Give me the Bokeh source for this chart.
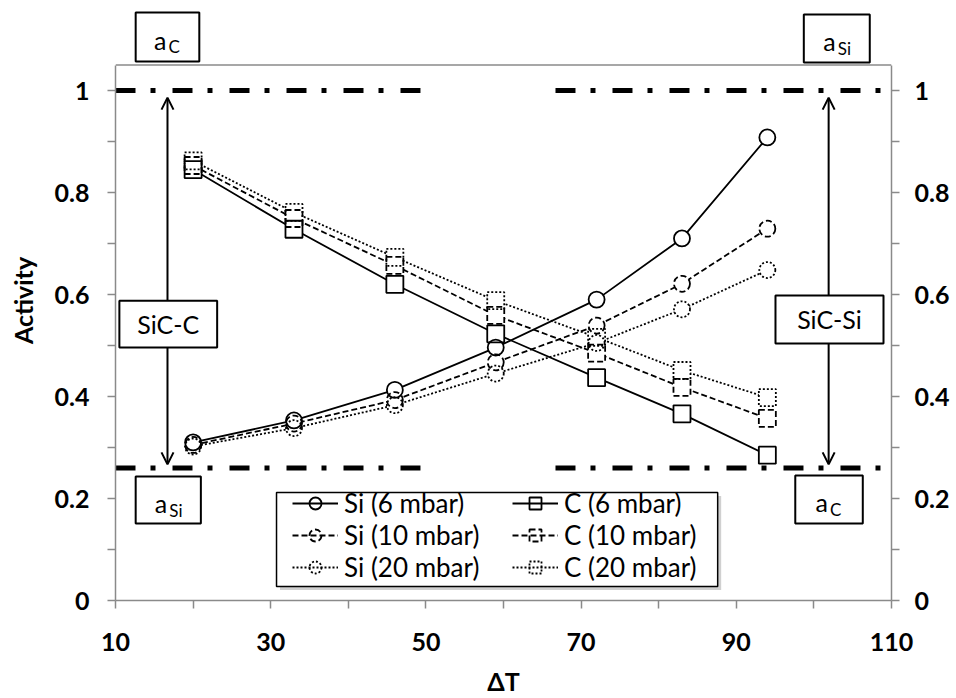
from bokeh.plotting import figure
from bokeh.models import (Range1d, LinearAxis, FixedTicker, Arrow, OpenHead,
                          Legend, LegendItem)
from bokeh.core.properties import value
from bokeh.embed import file_html
from bokeh.resources import INLINE

# ---------------- data ----------------
dt = [20, 33, 46, 59, 72, 83, 94]
si_6 = [0.310, 0.353, 0.413, 0.496, 0.590, 0.710, 0.908]
si_10 = [0.305, 0.347, 0.393, 0.467, 0.539, 0.621, 0.729]
si_20 = [0.302, 0.338, 0.383, 0.445, 0.505, 0.571, 0.648]
c_6 = [0.845, 0.728, 0.620, 0.523, 0.437, 0.366, 0.285]
c_10 = [0.853, 0.749, 0.657, 0.559, 0.485, 0.418, 0.357]
c_20 = [0.862, 0.761, 0.673, 0.588, 0.516, 0.451, 0.398]

series_labels = ["Si (6 mbar)", "Si (10 mbar)", "Si (20 mbar)",
                 "C (6 mbar)", "C (10 mbar)", "C (20 mbar)"]
series_values = [si_6, si_10, si_20, c_6, c_10, c_20]
series_markers = ["circle", "circle", "circle", "square", "square", "square"]
series_dash = ["solid", "6 3", "2 2", "solid", "6 3", "2 2"]

x_ticks = [10, 30, 50, 70, 90, 110]
x_minor = [20, 40, 60, 80, 100]
y_ticks = [0, 0.2, 0.4, 0.6, 0.8, 1.0]
y_tick_labels = ["0", "0.2", "0.4", "0.6", "0.8", "1"]
y_minor = [0.1, 0.3, 0.5, 0.7, 0.9]

# activity reference levels (dash-dot) and their x extents
ref_levels = [1.0, 0.26]
ref_x_start = [10, 66.7]
ref_x_end = [49.3, 110]

# double arrows (SiC-C on left, SiC-Si on right)
arrow_x = [16.7, 101.9]
arrow_y_low = 0.267
arrow_y_high = 0.986

# annotation boxes
box_text = ["a", "a", "SiC-C", "SiC-Si", "a", "a"]
box_sub = ["C", "Si", "", "", "Si", "C"]
box_x0 = [12.6, 98.7, 10.5, 95.05, 12.6, 97.6]
box_x1 = [20.8, 107.2, 23.1, 108.97, 21.0, 106.3]
box_y0 = [1.057, 1.055, 0.496, 0.504, 0.151, 0.151]
box_y1 = [1.153, 1.149, 0.588, 0.598, 0.243, 0.245]

# legend frame (data coordinates of the legend box)
legend_box = dict(left=30.75, right=87.6, bottom=0.0275, top=0.2118)

FONT = "Lato"
AX_COLOR = "#8a8a8a"

p = figure(width=954, height=698, x_range=Range1d(10, 110), y_range=Range1d(0, 1.1765),
           output_backend="svg", toolbar_location=None,
           min_border_left=115, min_border_right=63, min_border_top=0, min_border_bottom=98)
p.xgrid.visible = False
p.ygrid.visible = False
p.outline_line_color = None
p.background_fill_color = "white"
p.border_fill_color = "white"


def style_axis(ax):
    ax.axis_line_color = AX_COLOR
    ax.axis_line_width = 1.5
    ax.major_tick_line_color = AX_COLOR
    ax.minor_tick_line_color = AX_COLOR
    ax.major_tick_line_width = 1.5
    ax.minor_tick_line_width = 1.5
    ax.major_tick_in = 0
    ax.major_tick_out = 8
    ax.minor_tick_in = 0
    ax.minor_tick_out = 8
    ax.major_label_text_font = FONT
    ax.major_label_text_font_style = "bold"
    ax.major_label_text_font_size = "25px"
    ax.major_label_text_color = "black"


xax = p.xaxis[0]
style_axis(xax)
xax.ticker = FixedTicker(ticks=x_ticks, minor_ticks=x_minor)
xax.major_label_standoff = 24
xax.axis_label = "ΔT"
xax.axis_label_text_font = FONT
xax.axis_label_text_font_style = "bold"
xax.axis_label_text_font_size = "25px"
xax.axis_label_text_color = "black"
xax.axis_label_standoff = 12

yax = p.yaxis[0]
style_axis(yax)
yax.ticker = FixedTicker(ticks=y_ticks, minor_ticks=y_minor)
yax.major_label_overrides = {t: l for t, l in zip(y_ticks, y_tick_labels)}
yax.bounds = (0, 1.05)
yax.major_label_standoff = 18
yax.axis_label = "Activity"
yax.axis_label_text_font = FONT
yax.axis_label_text_font_style = "bold"
yax.axis_label_text_font_size = "25px"
yax.axis_label_text_color = "black"
yax.axis_label_standoff = 14

rax = LinearAxis()
style_axis(rax)
rax.ticker = FixedTicker(ticks=y_ticks, minor_ticks=y_minor)
rax.major_label_overrides = {t: l for t, l in zip(y_ticks, y_tick_labels)}
rax.bounds = (0, 1.05)
rax.major_label_standoff = 15
p.add_layout(rax, "right")

# top frame border
p.line([10, 110], [1.05, 1.05], line_color=AX_COLOR, line_width=1.5)

# dash-dot reference lines
for lvl in ref_levels:
    for xs, xe in zip(ref_x_start, ref_x_end):
        p.line([xs, xe], [lvl, lvl], line_color="black", line_width=5,
               line_dash="20 15 5 17", line_cap="butt")

# legend frame with a soft shadow (drawn under everything)
sh = p.quad(left=[legend_box["left"] + 0.45], right=[legend_box["right"] + 0.45],
            bottom=[legend_box["bottom"] - 0.007], top=[legend_box["top"] - 0.007],
            fill_color="#b0b0b0", fill_alpha=0.6, line_color=None)
sh.level = "underlay"
fr = p.quad(left=[legend_box["left"]], right=[legend_box["right"]],
            bottom=[legend_box["bottom"]], top=[legend_box["top"]],
            fill_color="white", line_color="black", line_width=1.5)
fr.level = "underlay"

# data lines
line_renderers = []
for ys, dash in zip(series_values, series_dash):
    line_renderers.append(p.line(dt, ys, line_color="black", line_width=1.8, line_dash=dash))

# clear interiors of markers
for ys, mk in zip(series_values, series_markers):
    p.scatter(dt, ys, marker=mk, size=16 if mk == "circle" else 17,
              fill_color="white", line_color=None)

# marker outlines
marker_renderers = []
for ys, mk, dash in zip(series_values, series_markers, series_dash):
    marker_renderers.append(p.scatter(dt, ys, marker=mk, size=16 if mk == "circle" else 17,
                                      fill_color=None, line_color="black", line_width=1.8,
                                      line_dash=dash))

# arrows
for ax_x in arrow_x:
    p.add_layout(Arrow(x_start=ax_x, y_start=arrow_y_low, x_end=ax_x, y_end=arrow_y_high,
                       line_width=2, line_color="black",
                       start=OpenHead(size=12, line_width=2, line_color="black"),
                       end=OpenHead(size=12, line_width=2, line_color="black")))

# boxes with texts
for i in range(len(box_text)):
    q = p.quad(left=[box_x0[i]], right=[box_x1[i]], bottom=[box_y0[i]], top=[box_y1[i]],
               fill_color="white", line_color="black", line_width=2)
    q.level = "overlay"
    cx = (box_x0[i] + box_x1[i]) / 2
    cy = (box_y0[i] + box_y1[i]) / 2
    if box_sub[i]:
        t1 = p.text([cx], [cy - 0.005], text=[box_text[i]], text_align="right",
                    text_baseline="middle", x_offset=-1,
                    text_font=value(FONT), text_font_size="25px", text_color="black")
        t2 = p.text([cx], [cy - 0.0196], text=[box_sub[i]], text_align="left",
                    text_baseline="middle", x_offset=1,
                    text_font=value(FONT), text_font_size="17px", text_color="black")
        t1.level = "overlay"
        t2.level = "overlay"
    else:
        t = p.text([cx], [cy], text=[box_text[i]], text_align="center",
                   text_baseline="middle",
                   text_font=value(FONT), text_font_size="25px", text_color="black")
        t.level = "overlay"


def make_legend(idx, loc):
    lg = Legend(items=[LegendItem(label=series_labels[k],
                                  renderers=[line_renderers[k], marker_renderers[k]])
                       for k in idx], location=loc)
    lg.label_text_font = FONT
    lg.label_text_font_size = "26px"
    lg.label_text_color = "black"
    lg.border_line_color = None
    lg.background_fill_alpha = 0
    lg.glyph_width = 46
    lg.glyph_height = 30
    lg.label_height = 30
    lg.label_standoff = 6
    lg.spacing = 0
    lg.padding = 0
    lg.margin = 0
    return lg


p.add_layout(make_legend([0, 1, 2], (177, 17)))
p.add_layout(make_legend([3, 4, 5], (397, 17)))

open("out.html", "w").write(file_html(p, INLINE))
